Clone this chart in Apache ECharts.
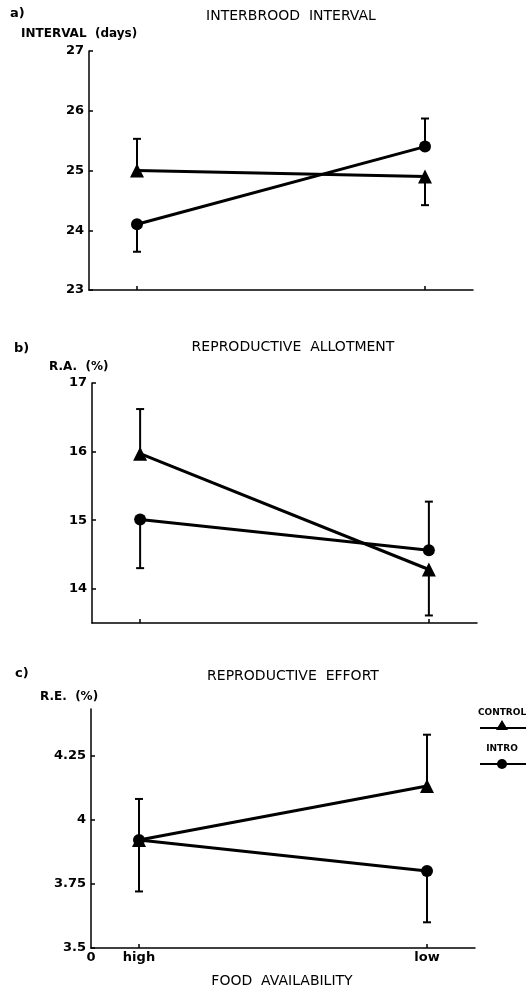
<!DOCTYPE html>
<html lang="en">
<head>
  <meta charset="UTF-8">
  <title>Food availability</title>
  <script src="https://cdn.jsdelivr.net/npm/echarts@6/dist/echarts.min.js"></script>
  <style type="text/css">
    body{ margin:0; background:#fff; }
    #main{ width:526px; height:990px; }
  </style>
</head>
<body>
<div id="main"></div>
<script type="text/javascript">
// x positions of the two food levels on a 0..8 axis
var xPos = [1, 7];
var xNames = ['high', 'low'];

// a) interbrood interval (days)
var aControl = [25.0, 24.9];
var aControlErr = [25.53, 24.42];
var aIntro = [24.1, 25.4];
var aIntroErr = [23.64, 25.87];
var aTicks = [23, 24, 25, 26, 27];

// b) reproductive allotment (%)
var bControl = [15.97, 14.28];
var bControlErr = [16.62, 13.61];
var bIntro = [15.01, 14.56];
var bIntroErr = [14.30, 15.27];
var bTicks = [14, 15, 16, 17];

// c) reproductive effort (%)
var cControl = [3.92, 4.13];
var cControlErr = [4.08, 4.33];
var cIntro = [3.92, 3.80];
var cIntroErr = [3.72, 3.60];
var cTicks = [3.5, 3.75, 4, 4.25];

var font = 'DejaVu Sans';

function pts(vals) {
  return xPos.map(function (x, i) { return [x, vals[i]]; });
}
function errs(vals, ends) {
  return xPos.map(function (x, i) { return [x, vals[i], ends[i]]; });
}

function errRender(params, api) {
  var p = api.coord([api.value(0), api.value(1)]);
  var e = api.coord([api.value(0), api.value(2)]);
  var st = { stroke: '#000', lineWidth: 2 };
  return {
    type: 'group',
    children: [
      { type: 'line', shape: { x1: p[0], y1: p[1], x2: e[0], y2: e[1] }, style: st },
      { type: 'line', shape: { x1: e[0] - 4, y1: e[1], x2: e[0] + 4, y2: e[1] }, style: st }
    ]
  };
}

function xAxisFor(i, labels) {
  return {
    type: 'value', gridIndex: i, min: 0, max: 8,
    axisLine: { lineStyle: { color: '#000', width: 1.5 } },
    axisTick: { inside: true, length: 4, customValues: xPos, lineStyle: { color: '#000', width: 1.5 } },
    axisLabel: labels ? {
      customValues: [0].concat(xPos),
      formatter: function (v) { return v === 0 ? '0' : xNames[xPos.indexOf(v)]; },
      color: '#000', fontFamily: font, fontSize: 13, fontWeight: 'bold', margin: 3
    } : { show: false },
    splitLine: { show: false }
  };
}

function yAxisFor(i, min, max, ticks) {
  return {
    type: 'value', gridIndex: i, min: min, max: max,
    axisLine: { show: true, lineStyle: { color: '#000', width: 1.5 } },
    axisTick: { inside: true, length: 4, customValues: ticks, lineStyle: { color: '#000', width: 1.5 } },
    axisLabel: { customValues: ticks, color: '#000', fontFamily: font, fontSize: 13, fontWeight: 'bold', margin: 5 },
    splitLine: { show: false }
  };
}

function lineSeries(i, data, sym, size) {
  return {
    type: 'line', xAxisIndex: i, yAxisIndex: i, data: pts(data),
    symbol: sym, symbolSize: size, z: 3,
    itemStyle: { color: '#000' },
    lineStyle: { color: '#000', width: 3 }
  };
}

function errSeries(i, data, ends) {
  return {
    type: 'custom', xAxisIndex: i, yAxisIndex: i, data: errs(data, ends),
    renderItem: errRender, z: 2
  };
}

function txt(x, y, s, size, bold, align) {
  return {
    type: 'text', x: x, y: y,
    style: { text: s, fill: '#000', font: (bold ? 'bold ' : '') + size + 'px ' + font, align: align || 'left', verticalAlign: 'middle' }
  };
}

var myChart = echarts.init(document.getElementById('main'));
var option = {
  backgroundColor: '#fff',
  animation: false,
  grid: [
    { left: 89, top: 51, width: 384, height: 239 },
    { left: 92, top: 383, width: 385, height: 240 },
    { left: 91, top: 709, width: 384, height: 239 }
  ],
  xAxis: [xAxisFor(0, false), xAxisFor(1, false), xAxisFor(2, true)],
  yAxis: [
    yAxisFor(0, 23, 27, aTicks),
    yAxisFor(1, 13.5, 17, bTicks),
    yAxisFor(2, 3.5, 4.43, cTicks)
  ],
  series: [
    errSeries(0, aControl, aControlErr), errSeries(0, aIntro, aIntroErr),
    lineSeries(0, aControl, 'triangle', 14), lineSeries(0, aIntro, 'circle', 12),
    errSeries(1, bControl, bControlErr), errSeries(1, bIntro, bIntroErr),
    lineSeries(1, bControl, 'triangle', 14), lineSeries(1, bIntro, 'circle', 12),
    errSeries(2, cControl, cControlErr), errSeries(2, cIntro, cIntroErr),
    lineSeries(2, cControl, 'triangle', 14), lineSeries(2, cIntro, 'circle', 12)
  ],
  graphic: [
    txt(10, 14, 'a)', 13, true),
    txt(291, 16, 'INTERBROOD  INTERVAL', 14, false, 'center'),
    txt(21, 34, 'INTERVAL  (days)', 12, true),
    txt(14, 349, 'b)', 13, true),
    txt(293, 347, 'REPRODUCTIVE  ALLOTMENT', 14, false, 'center'),
    txt(49, 367, 'R.A.  (%)', 12, true),
    txt(15, 674, 'c)', 13, true),
    txt(293, 676, 'REPRODUCTIVE  EFFORT', 14, false, 'center'),
    txt(40, 697, 'R.E.  (%)', 12, true),
    txt(282, 981, 'FOOD  AVAILABILITY', 14, false, 'center'),
    // legend
    txt(502, 713, 'CONTROL', 9, true, 'center'),
    { type: 'line', shape: { x1: 480, y1: 728, x2: 526, y2: 728 }, style: { stroke: '#000', lineWidth: 2 } },
    { type: 'polygon', shape: { points: [[502, 720], [496, 730], [508, 730]] }, style: { fill: '#000' } },
    txt(502, 749, 'INTRO', 9, true, 'center'),
    { type: 'line', shape: { x1: 480, y1: 764, x2: 526, y2: 764 }, style: { stroke: '#000', lineWidth: 2 } },
    { type: 'circle', shape: { cx: 502, cy: 764, r: 5 }, style: { fill: '#000' } }
  ]
};
myChart.setOption(option);
</script>
</body>
</html>
